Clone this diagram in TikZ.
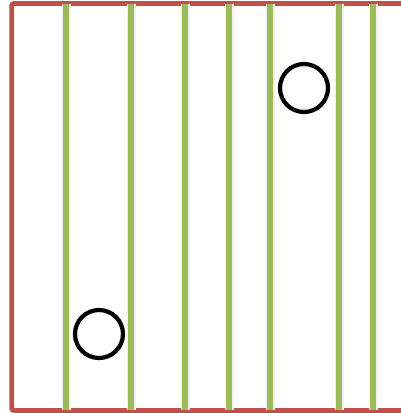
\documentclass[tikz,border=0pt]{standalone}
\usepackage{xcolor}
\usepackage{tikz}
\definecolor{corverde}{RGB}{155,187,89}
\definecolor{corvermelho}{RGB}{192,80,77}

\begin{document}
\begin{tikzpicture}[x=1pt, y=-1pt,
  moldura/.style={draw=corvermelho, line width=4.6pt, rounded corners=2pt},
  faixa/.style={draw=corverde, line width=6pt},
  sombra/.style={draw=black!6, line width=9pt},
  bolha/.style={circle, draw=black, line width=4.2pt, minimum size=48pt, inner sep=0pt}
]
  \clip (0,0) rectangle (401,413);
  \fill[white] (0,0) rectangle (401,413);
  \draw[moldura] (11.7,3.5) rectangle (430,410.5);
  \foreach \x in {66,131,185,229,269.5,339,373} {
    \draw[sombra] (\x+0.5,4) -- (\x+0.5,410);
    \draw[faixa] (\x,4) -- (\x,410);
  }
  \node[bolha] (bolhaA) at (304,88) {};
  \node[bolha] (bolhaB) at (99,334) {};
\end{tikzpicture}
\end{document}
